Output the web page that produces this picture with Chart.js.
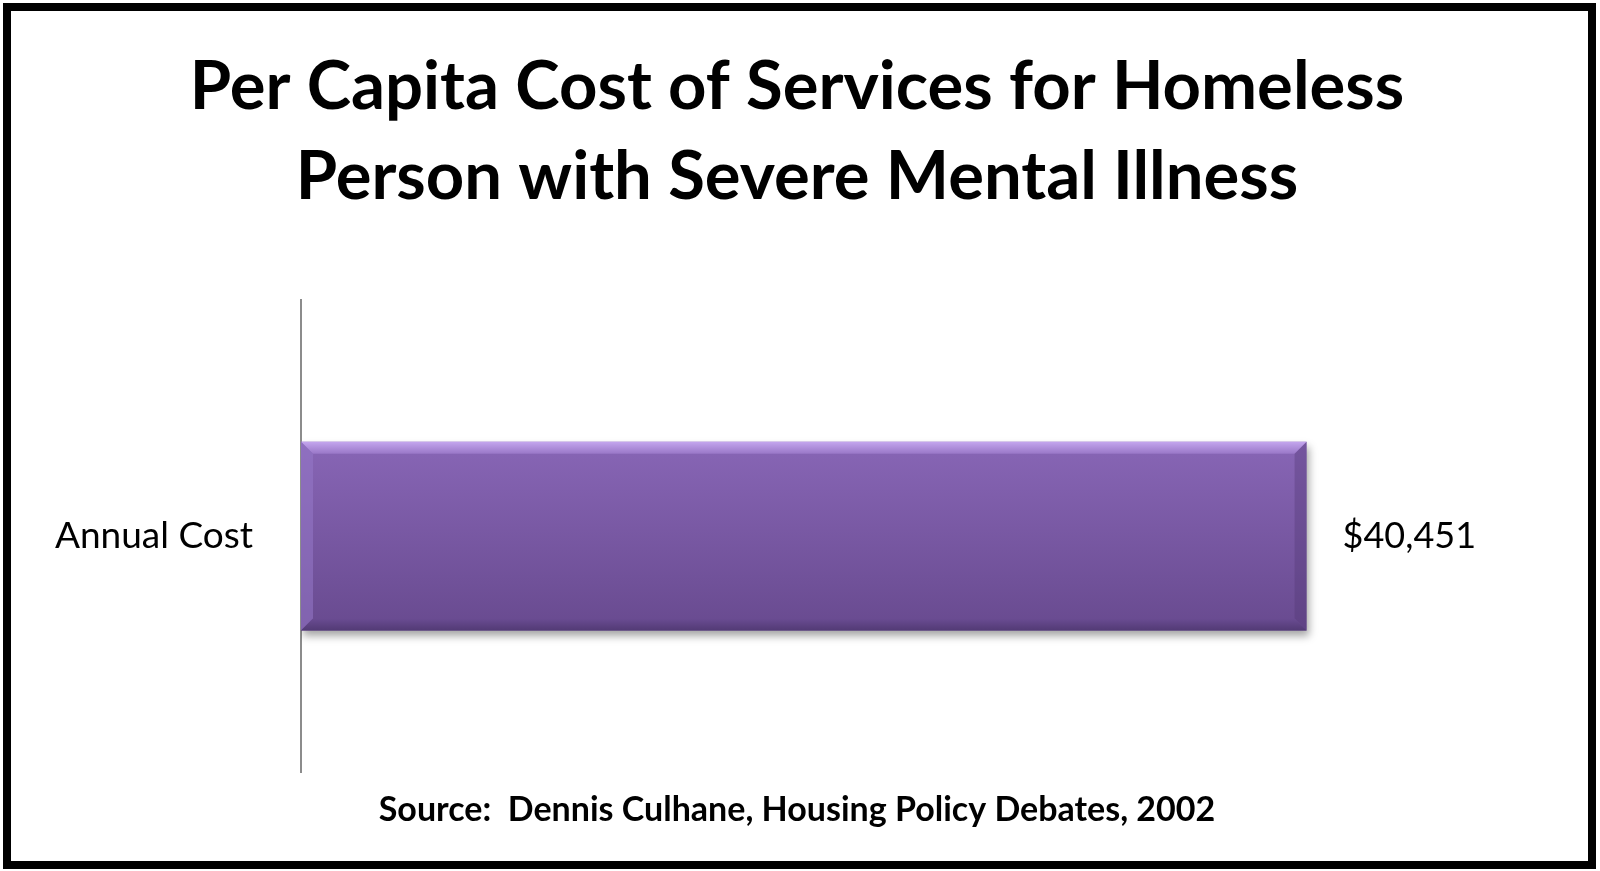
<!DOCTYPE html>
<html>
<head>
<meta charset="utf-8">
<script src="https://cdn.jsdelivr.net/npm/chart.js@4"></script>
<style>
  html, body { margin: 0; padding: 0; background: #fff; }
  #wrap { position: absolute; left: 0; top: 0; width: 1600px; height: 871px; }
</style>
</head>
<body>
<div id="wrap"><canvas id="grafico"></canvas></div>
<script>
// datos del grafico
const categorias = ["Annual Cost"];
const costos = [40451];
const etiquetasValor = ["$40,451"];
const titulo = ["Per Capita Cost of Services for Homeless", "Person with Severe Mental Illness"];
const fuente = "Source:  Dennis Culhane, Housing Policy Debates, 2002";

Chart.defaults.font.family = "Lato, 'Open Sans', sans-serif";
Chart.defaults.color = "#000";

// marco negro alrededor de todo
const marco = {
  id: "marco",
  afterDraw(chart) {
    const c = chart.ctx;
    c.save();
    c.strokeStyle = "#000";
    c.lineWidth = 8;
    c.strokeRect(7, 7, 1585, 858);
    c.restore();
  }
};

// sombra, bisel y etiqueta de valor de la barra
const bisel = {
  id: "bisel",
  beforeDatasetDraw(chart) {
    const c = chart.ctx;
    c.save();
    c.shadowColor = "rgba(0,0,0,0.35)";
    c.shadowBlur = 8;
    c.shadowOffsetX = 2;
    c.shadowOffsetY = 5;
  },
  afterDatasetDraw(chart) {
    chart.ctx.restore();
  },
  afterDatasetsDraw(chart) {
    const c = chart.ctx;
    const meta = chart.getDatasetMeta(0);
    meta.data.forEach((bar, i) => {
      const p = bar.getProps(["x", "y", "base", "height"], true);
      const l = p.base, r = p.x, t = p.y - p.height / 2, b = p.y + p.height / 2;
      const s = 12;
      c.save();
      // arriba claro
      let g = c.createLinearGradient(0, t, 0, t + s);
      g.addColorStop(0, "#c4a6ee");
      g.addColorStop(1, "#9a78c8");
      c.fillStyle = g;
      c.beginPath();
      c.moveTo(l, t); c.lineTo(r, t); c.lineTo(r - s, t + s); c.lineTo(l + s, t + s); c.closePath();
      c.fill();
      // izquierda
      c.fillStyle = "rgba(150,120,200,0.55)";
      c.beginPath();
      c.moveTo(l, t); c.lineTo(l + s, t + s); c.lineTo(l + s, b - s); c.lineTo(l, b); c.closePath();
      c.fill();
      // derecha
      c.fillStyle = "rgba(80,55,115,0.35)";
      c.beginPath();
      c.moveTo(r, t); c.lineTo(r, b); c.lineTo(r - s, b - s); c.lineTo(r - s, t + s); c.closePath();
      c.fill();
      // abajo oscuro
      g = c.createLinearGradient(0, b - s, 0, b);
      g.addColorStop(0, "#6a4c92");
      g.addColorStop(1, "#523a75");
      c.fillStyle = g;
      c.beginPath();
      c.moveTo(l, b); c.lineTo(l + s, b - s); c.lineTo(r - s, b - s); c.lineTo(r, b); c.closePath();
      c.fill();
      // etiqueta de valor
      c.fillStyle = "#000";
      c.font = "36px Lato, 'Open Sans', sans-serif";
      c.textAlign = "left";
      c.textBaseline = "middle";
      c.fillText(etiquetasValor[i], r + 36, p.y);
      c.restore();
    });
  }
};

const ctx = document.getElementById("grafico").getContext("2d");
new Chart(ctx, {
  type: "bar",
  data: {
    labels: categorias,
    datasets: [{
      label: "Annual Cost",
      data: costos,
      backgroundColor: (context) => {
        const area = context.chart.chartArea;
        if (!area) return "#7a5aa6";
        const g = context.chart.ctx.createLinearGradient(0, area.top, 0, area.bottom);
        g.addColorStop(0.3, "#8866b6");
        g.addColorStop(0.7, "#684a8f");
        return g;
      },
      borderWidth: 0,
      categoryPercentage: 1,
      barPercentage: 0.4
    }]
  },
  options: {
    indexAxis: "y",
    responsive: true,
    maintainAspectRatio: false,
    animation: false,
    layout: { padding: { left: 50, right: 56, top: 0, bottom: 0 } },
    plugins: {
      legend: { display: false },
      tooltip: { enabled: false },
      title: {
        display: true,
        text: titulo,
        font: { size: 67, weight: "bold", lineHeight: 1.343 },
        padding: { top: 42, bottom: 78 }
      },
      subtitle: {
        display: true,
        position: "bottom",
        text: fuente,
        font: { size: 34, weight: "bold", lineHeight: 1.2 },
        padding: { top: 17, bottom: 41 }
      }
    },
    scales: {
      x: { display: false, min: 0, max: 50000 },
      y: {
        grid: { display: false, drawTicks: false },
        border: { display: true, color: "#8c8c8c", width: 2 },
        ticks: { padding: 48, font: { size: 37 }, color: "#000" },
        afterFit(scale) { scale.width = 251; }
      }
    }
  },
  plugins: [marco, bisel]
});
</script>
</body>
</html>
